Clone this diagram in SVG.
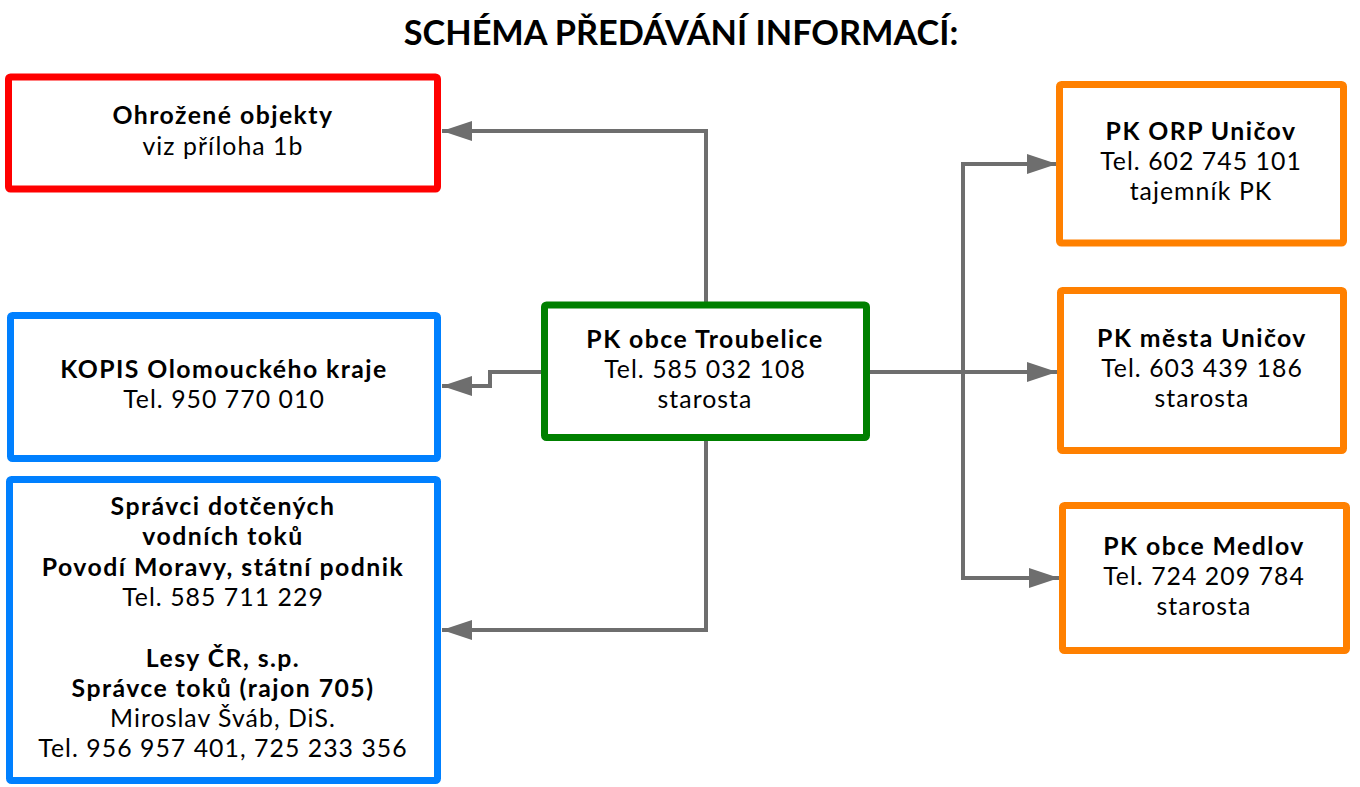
<svg xmlns="http://www.w3.org/2000/svg" width="1360" height="787" viewBox="0 0 1360 787">
<style>
  text { font-family: Lato, "Open Sans", "Liberation Sans", sans-serif; font-size: 24.8px; fill: #000; text-anchor: middle; letter-spacing: 1.05px; }
  .b { font-weight: bold; letter-spacing: 1.45px; }
  .title { font-size: 34.3px; font-weight: bold; letter-spacing: 0; }
  .box { fill: #fff; stroke-width: 7; }
  .red { stroke: #ff0000; }
  .blue { stroke: #0080ff; }
  .green { stroke: #008000; }
  .orange { stroke: #ff8000; }
  .conn { fill: none; stroke: #6e6e6e; stroke-width: 4; }
</style>
<defs>
  <marker id="arr" viewBox="0 0 30 20" refX="30" refY="10" markerWidth="30" markerHeight="20" markerUnits="userSpaceOnUse" orient="auto">
    <path d="M0,0 L30,10 L0,20 Z" fill="#6e6e6e"/>
  </marker>
</defs>
<rect width="1360" height="787" fill="#fff"/>
<text class="title" x="681" y="45">SCHÉMA PŘEDÁVÁNÍ INFORMACÍ:</text>

<g id="connectors">
  <path class="conn" d="M706,303 V131 H442" marker-end="url(#arr)"/>
  <path class="conn" d="M543,372 H490 V386 H442" marker-end="url(#arr)"/>
  <path class="conn" d="M706,439 V630 H442" marker-end="url(#arr)"/>
  <path class="conn" d="M868,372 H1057" marker-end="url(#arr)"/>
  <path class="conn" d="M1057,164 H963 V578 H1059" marker-end="url(#arr)"/>
  <path class="conn" d="M963,164 H1057" marker-end="url(#arr)"/>
</g>

<g id="ohrozene">
  <rect class="box red" x="8.5" y="77" width="429" height="112" rx="2"/>
  <text class="b" x="223" y="124">Ohrožené objekty</text>
  <text x="223" y="155">viz příloha 1b</text>
</g>

<g id="kopis">
  <rect class="box blue" x="10.5" y="315.5" width="427" height="143" rx="2"/>
  <text class="b" x="224" y="378">KOPIS Olomouckého kraje</text>
  <text x="224" y="408">Tel. 950 770 010</text>
</g>

<g id="spravci">
  <rect class="box blue" x="9.5" y="479.5" width="428" height="301" rx="2"/>
  <text class="b" x="223" y="515">Správci dotčených</text>
  <text class="b" x="223" y="545">vodních toků</text>
  <text class="b" x="223" y="576">Povodí Moravy, státní podnik</text>
  <text x="223" y="606">Tel. 585 711 229</text>
  <text class="b" x="223" y="667">Lesy ČR, s.p.</text>
  <text class="b" x="223" y="697">Správce toků (rajon 705)</text>
  <text x="223" y="727">Miroslav Šváb, DiS.</text>
  <text x="223" y="757">Tel. 956 957 401, 725 233 356</text>
</g>

<g id="troubelice">
  <rect class="box green" x="544.5" y="305" width="322" height="132.5" rx="2"/>
  <text class="b" x="705" y="348">PK obce Troubelice</text>
  <text x="705" y="378">Tel. 585 032 108</text>
  <text x="705" y="408">starosta</text>
</g>

<g id="orp">
  <rect class="box orange" x="1059.5" y="84.5" width="284" height="158.5" rx="2"/>
  <text class="b" x="1201" y="140">PK ORP Uničov</text>
  <text x="1201" y="170">Tel. 602 745 101</text>
  <text x="1201" y="200">tajemník PK</text>
</g>

<g id="mesto">
  <rect class="box orange" x="1060.5" y="290.5" width="283" height="160" rx="2"/>
  <text class="b" x="1202" y="347">PK města Uničov</text>
  <text x="1202" y="377">Tel. 603 439 186</text>
  <text x="1202" y="407">starosta</text>
</g>

<g id="medlov">
  <rect class="box orange" x="1062.5" y="505.5" width="284" height="145" rx="2"/>
  <text class="b" x="1204" y="555">PK obce Medlov</text>
  <text x="1204" y="585">Tel. 724 209 784</text>
  <text x="1204" y="615">starosta</text>
</g>
</svg>
